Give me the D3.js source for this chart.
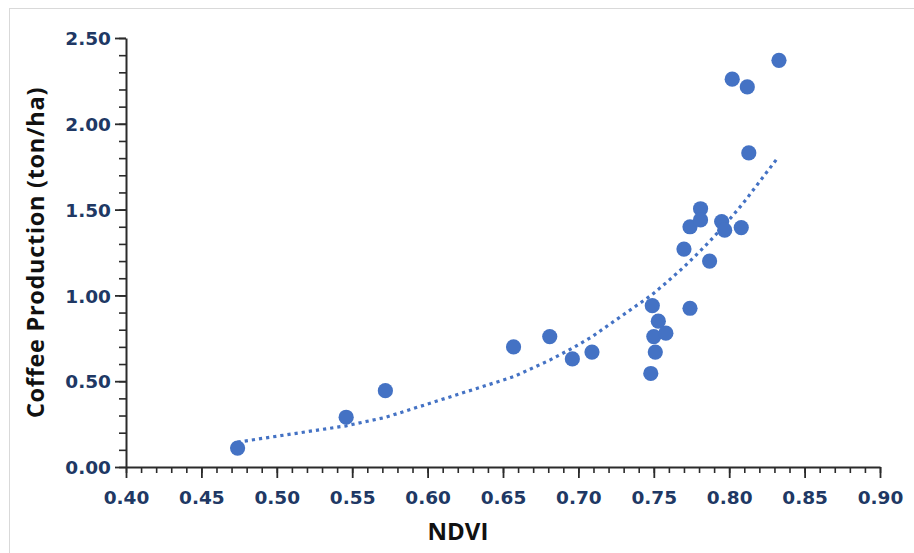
<!DOCTYPE html>
<html>
<head>
<meta charset="utf-8">
<script src="https://cdn.jsdelivr.net/npm/d3@7"></script>
<style>
  html, body { margin: 0; padding: 0; background: #ffffff; }
  svg { display: block; }
</style>
</head>
<body>
<svg id="chart" width="914" height="553"></svg>
<script>
// ---- data ----
const ndvi = [0.474, 0.546, 0.572, 0.657, 0.681, 0.696, 0.709, 0.748, 0.749, 0.751,
              0.750, 0.753, 0.758, 0.770, 0.774, 0.774, 0.781, 0.781, 0.787, 0.795,
              0.797, 0.808, 0.813, 0.802, 0.812, 0.833];
const production = [0.11, 0.29, 0.445, 0.70, 0.76, 0.63, 0.67, 0.545, 0.94, 0.67,
                    0.76, 0.85, 0.78, 1.27, 0.925, 1.40, 1.505, 1.44, 1.20, 1.43,
                    1.38, 1.395, 1.83, 2.26, 2.215, 2.37];
// dotted trend line
const trendX = [0.474, 0.546, 0.572, 0.657, 0.681, 0.696, 0.709, 0.748, 0.750, 0.751,
                0.753, 0.758, 0.770, 0.774, 0.781, 0.787, 0.795, 0.797, 0.802, 0.808,
                0.812, 0.813, 0.832];
const trendY = [0.145, 0.240, 0.289, 0.526, 0.623, 0.692, 0.759, 0.999, 1.013, 1.020,
                1.035, 1.072, 1.166, 1.200, 1.261, 1.315, 1.391, 1.411, 1.461, 1.524,
                1.568, 1.580, 1.800];
const xTicks = [0.40, 0.45, 0.50, 0.55, 0.60, 0.65, 0.70, 0.75, 0.80, 0.85, 0.90];
const yTicks = [0.00, 0.50, 1.00, 1.50, 2.00, 2.50];
const xTitle = "NDVI";
const yTitle = "Coffee Production (ton/ha)";

// ---- layout ----
const svg = d3.select("#chart");
const mLeft = 126, mRight = 880, mTop = 38, mBottom = 467;
const blue = "#4472C4", axisCol = "#2b2b2b", tickCol = "#203864";

svg.append("rect").attr("x", 9.5).attr("y", 8.5).attr("width", 930).attr("height", 560)
  .attr("fill", "#fff").attr("stroke", "#d9d9d9").attr("stroke-width", 1);

const x = d3.scaleLinear().domain([0.40, 0.90]).range([mLeft, mRight]);
const y = d3.scaleLinear().domain([0, 2.5]).range([mBottom, mTop]);

// minor ticks
const xMinor = d3.range(40, 91).map(d => d / 100);
const yMinor = d3.range(0, 26).map(d => d / 10);

const gxMinor = svg.append("g").attr("transform", `translate(0,${mBottom})`)
  .call(d3.axisBottom(x).tickValues(xMinor).tickSize(6).tickFormat(""));
const gyMinor = svg.append("g").attr("transform", `translate(${mLeft},0)`)
  .call(d3.axisLeft(y).tickValues(yMinor).tickSize(7).tickFormat(""));
[gxMinor, gyMinor].forEach(g => {
  g.select(".domain").remove();
  g.selectAll("line").attr("stroke", axisCol).attr("stroke-width", 1.6);
});

const gx = svg.append("g").attr("transform", `translate(0,${mBottom})`)
  .call(d3.axisBottom(x).tickValues(xTicks).tickSize(11).tickPadding(13)
        .tickFormat(d3.format(".2f")).tickSizeOuter(0));
const gy = svg.append("g").attr("transform", `translate(${mLeft},0)`)
  .call(d3.axisLeft(y).tickValues(yTicks).tickSize(11).tickPadding(4)
        .tickFormat(d3.format(".2f")).tickSizeOuter(0));
[gx, gy].forEach(g => {
  g.select(".domain").attr("stroke", axisCol).attr("stroke-width", 2);
  g.selectAll(".tick line").attr("stroke", axisCol).attr("stroke-width", 1.8);
  g.selectAll(".tick text").attr("fill", tickCol)
    .style("font-family", "'DejaVu Sans', Verdana, sans-serif")
    .style("font-weight", "bold").style("font-size", "18.5px");
});
gy.selectAll(".tick text").attr("dy", "0.36em");

// axis titles
svg.append("text").text(xTitle)
  .attr("x", 458).attr("y", 540).attr("text-anchor", "middle")
  .style("font-family", "'Open Sans', sans-serif").style("font-weight", "bold")
  .style("font-size", "24px").attr("fill", "#111");
svg.append("text").text(yTitle)
  .attr("transform", `translate(44,${(mTop + mBottom) / 2}) rotate(-90)`)
  .attr("text-anchor", "middle")
  .style("font-family", "'Open Sans', sans-serif").style("font-weight", "bold")
  .style("letter-spacing", "0.7px")
  .style("font-size", "23.5px").attr("fill", "#111");

// trend line
const trend = trendX.map((v, i) => [v, trendY[i]]);
svg.append("path").datum(trend)
  .attr("d", d3.line().x(d => x(d[0])).y(d => y(d[1])))
  .attr("fill", "none").attr("stroke", blue).attr("stroke-width", 3.2)
  .attr("stroke-dasharray", "3.2,4");

// points
const pts = ndvi.map((v, i) => [v, production[i]]);
svg.append("g").selectAll("circle").data(pts).join("circle")
  .attr("cx", d => x(d[0])).attr("cy", d => y(d[1])).attr("r", 7.6)
  .attr("fill", blue);
</script>
</body>
</html>
